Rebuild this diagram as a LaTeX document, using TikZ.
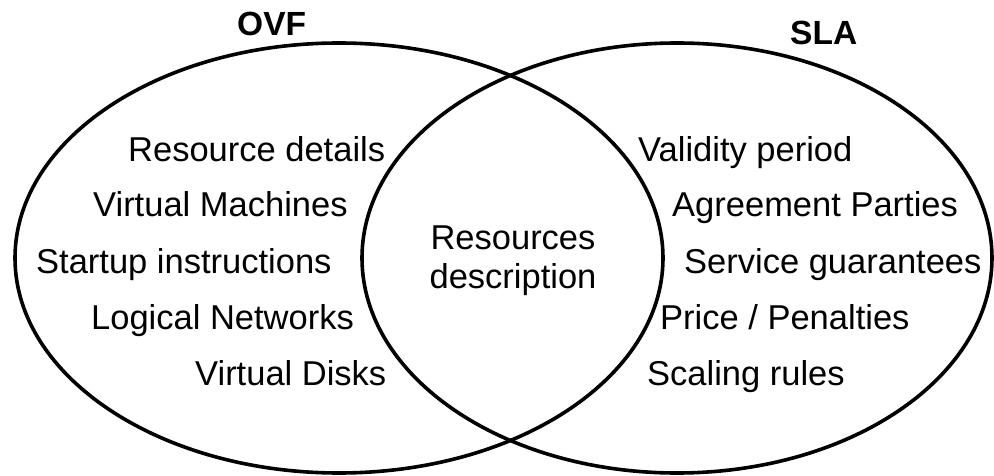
\documentclass[tikz,border=0pt]{standalone}
\usepackage{fontspec}
\setmainfont{Liberation Sans}
\usepackage{tikz}
\usetikzlibrary{positioning}

\begin{document}
\begin{tikzpicture}[x=1pt,y=-1pt,
		ring/.style={line width=3.6pt},
		lbl/.style={anchor=base west,inner sep=0pt,font=\fontsize{34.5}{40}\selectfont},
		ttl/.style={anchor=base west,inner sep=0pt,font=\fontsize{33.5}{40}\selectfont\bfseries}]
		\useasboundingbox (0,0) rectangle (994,476);
		\draw[ring] (339,258) ellipse [x radius=324, y radius=215];
		\draw[ring] (677,258) ellipse [x radius=315, y radius=215];
		\node[ttl] (ovf) at (237,36) {OVF};
		\node[ttl] (sla) at (790,45) {SLA};
		\node[lbl] (resdet) at (128,162) {Resource details};
		\node[lbl] (vm) at (93,217) {Virtual Machines};
		\node[lbl] (startup) at (36,273) {Startup instructions};
		\node[lbl] (lognet) at (91,329) {Logical Networks};
		\node[lbl] (vdisk) at (195,385) {Virtual Disks};
		\node[lbl,anchor=base] (res) at (513,249) {Resources};
		\node[lbl,anchor=base] (desc) at (513,288) {description};
		\node[lbl] (valid) at (638,162) {Validity period};
		\node[lbl] (parties) at (672,217) {Agreement Parties};
		\node[lbl] (guar) at (684,273) {Service guarantees};
		\node[lbl] (price) at (660,329) {Price / Penalties};
		\node[lbl] (scale) at (647,385) {Scaling rules};
		\end{tikzpicture}
\end{document}
